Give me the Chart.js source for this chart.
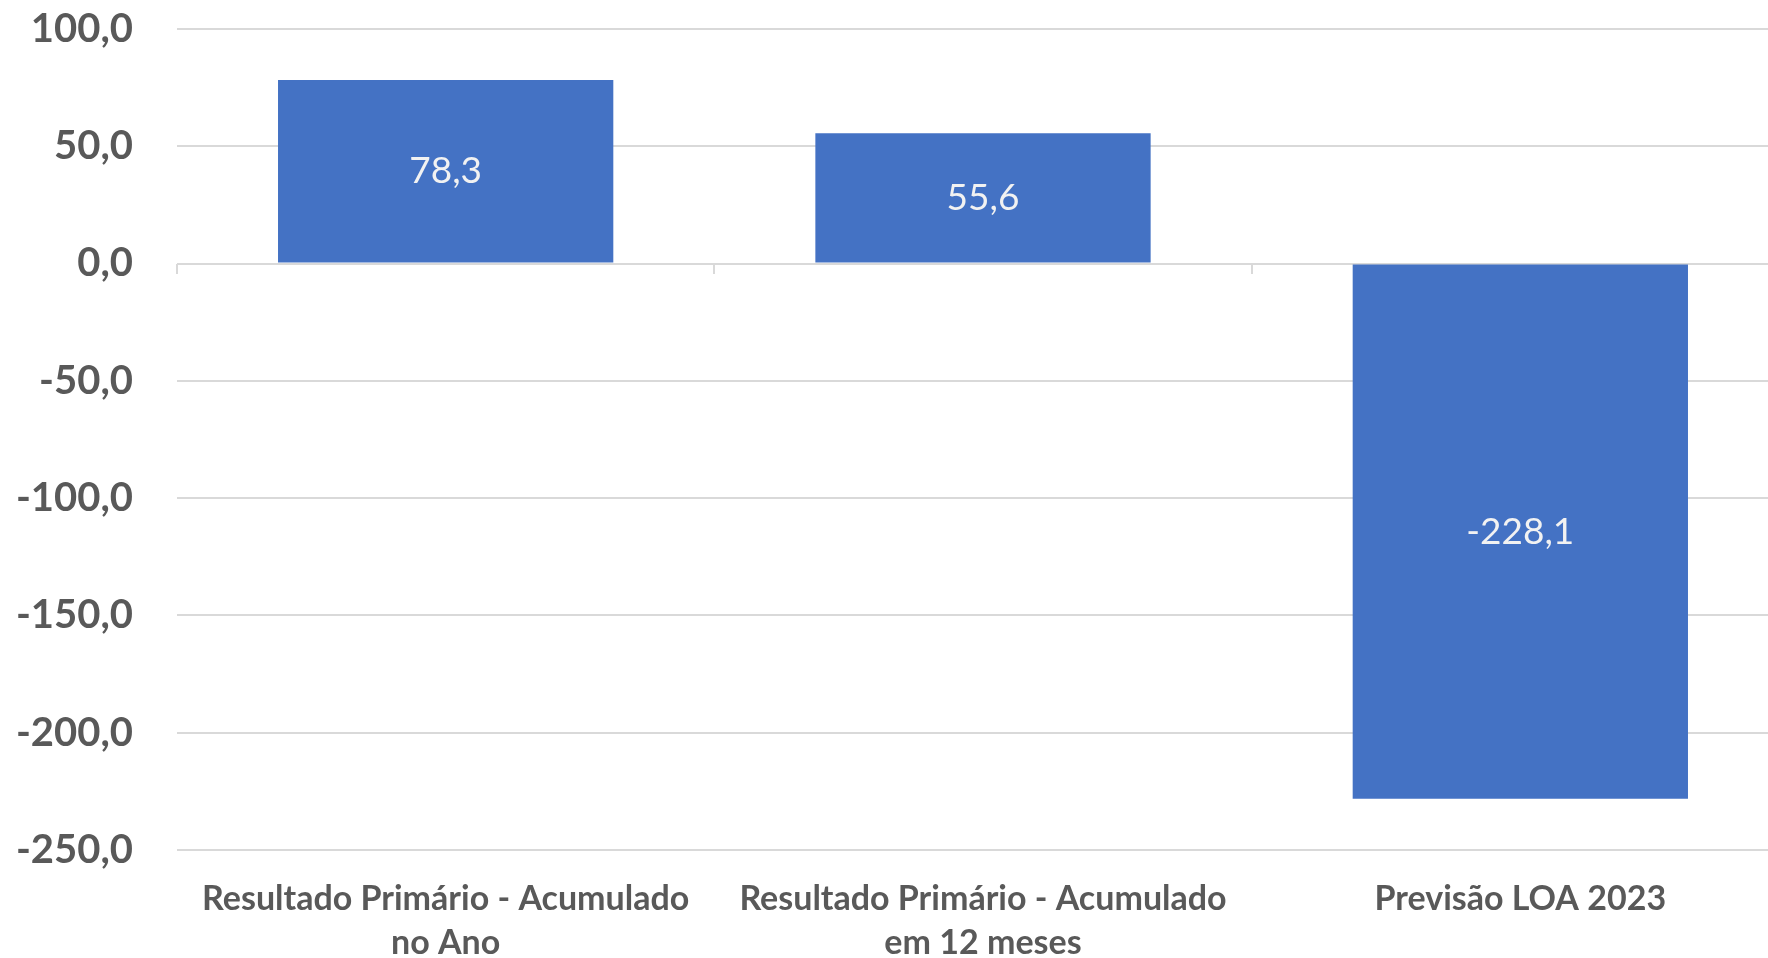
<!DOCTYPE html>
<html>
<head>
<meta charset="utf-8">
<script src="https://cdn.jsdelivr.net/npm/chart.js@4/dist/chart.umd.min.js"></script>
<style>
  html, body { margin: 0; padding: 0; background: #ffffff; overflow: hidden; }
  /* plot runs a little past the right edge of the window, as in the source */
  #wrap { width: 1790px; height: 958px; position: relative; }
</style>
</head>
<body>
<div id="wrap"><canvas id="chart"></canvas></div>
<script>
/* ================================================
   DATA
================================================ */

const categories = [
  ['Resultado Primário - Acumulado', 'no Ano'],
  ['Resultado Primário - Acumulado', 'em 12 meses'],
  'Previsão LOA 2023',
];
const values   = [78.3, 55.6, -228.1];
const yTicks   = [100, 50, 0, -50, -100, -150, -200, -250];

/* ================================================
   STYLE
================================================ */

const COLORS = {
  bar:   '#4472C4',
  text:  '#595959',
  grid:  '#d9d9d9',
  label: '#f2f2f2',
};
const FONT = 'Lato, "Open Sans", sans-serif';

function fmt(v) {
  return v.toFixed(1).replace('.', ',');
}

/* value labels centred in each bar */
const barLabels = {
  id: 'barLabels',
  afterDatasetsDraw(chart) {
    const ctx  = chart.ctx;
    const meta = chart.getDatasetMeta(0);
    ctx.save();
    ctx.font = '37px ' + FONT;
    ctx.fillStyle = COLORS.label;
    ctx.textAlign = 'center';
    ctx.textBaseline = 'middle';
    meta.data.forEach((el, i) => {
      ctx.fillText(fmt(values[i]), el.x, (el.y + el.base) / 2);
    });
    ctx.restore();
  },
};

/* ================================================
   CHART
================================================ */

new Chart(document.getElementById('chart').getContext('2d'), {
  type: 'bar',
  data: {
    labels: categories,
    datasets: [{
      data:               values,
      backgroundColor:    COLORS.bar,
      borderWidth:        0,
      categoryPercentage: 1,
      barPercentage:      0.624,
    }],
  },
  options: {
    responsive:          true,
    maintainAspectRatio: false,
    animation:           false,
    layout: { padding: { top: 29, right: 1, left: 0, bottom: 0 } },
    plugins: {
      legend:  { display: false },
      tooltip: { enabled: false },
    },
    scales: {
      x: {
        position: 'bottom',
        grid:   { display: false },
        border: { display: false },
        ticks: {
          color: COLORS.text,
          font: { family: FONT, size: 34, weight: 'bold', lineHeight: 1.3 },
          padding: 19,
          maxRotation: 0,
          autoSkip: false,
        },
        afterFit(scale) {
          scale.height = 108;
          scale.paddingLeft = 0;
          scale.paddingRight = 0;
        },
      },
      /* small category ticks sitting on the zero line */
      x0: {
        type: 'category',
        position: { y: 0 },
        grid: {
          offset: true,
          drawOnChartArea: false,
          drawTicks: true,
          tickLength: 10,
          color: COLORS.grid,
          lineWidth: 2,
        },
        border: { display: false },
        ticks: { display: false },
        afterFit(scale) { scale.height = 0; },
      },
      y: {
        min: -250,
        max: 100,
        afterBuildTicks(scale) {
          scale.ticks = yTicks.map(v => ({ value: v }));
        },
        afterFit(scale) {
          scale.width = 177;
          scale.paddingTop = 0;
          scale.paddingBottom = 0;
        },
        grid:   { color: COLORS.grid, lineWidth: 2, drawTicks: false },
        border: { display: false },
        ticks: {
          color: COLORS.text,
          font: { family: FONT, size: 40, weight: 'bold' },
          padding: 44,
          callback: v => fmt(v),
        },
      },
    },
  },
  plugins: [barLabels],
});
</script>
</body>
</html>
